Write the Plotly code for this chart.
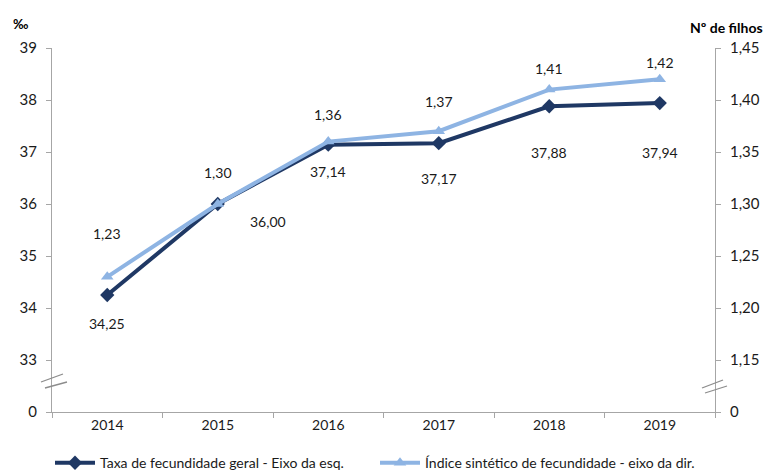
import plotly.graph_objects as go

years = ["2014", "2015", "2016", "2017", "2018", "2019"]
taxa_geral = [34.25, 36.00, 37.14, 37.17, 37.88, 37.94]          # ‰, left axis
indice_sintetico = [1.23, 1.30, 1.36, 1.37, 1.41, 1.42]         # nº de filhos, right axis

left_ticks = [32, 33, 34, 35, 36, 37, 38, 39]
left_ticktext = ["0", "33", "34", "35", "36", "37", "38", "39"]
right_ticks = [1.10, 1.15, 1.20, 1.25, 1.30, 1.35, 1.40, 1.45]
right_ticktext = ["0", "1,15", "1,20", "1,25", "1,30", "1,35", "1,40", "1,45"]

# label offsets in pixels (x, y) for each data label
taxa_label_offsets = [(0, -28), (50, -17), (0, -27), (0, -35), (0, -46), (0, -49)]
indice_label_offsets = [(0, 43), (0, 32), (0, 27), (0, 30), (0, 21), (0, 17)]

DARK = "#1F3864"
LIGHT = "#8EB4E3"
AXIS = "#A6A6A6"
FONT = "Lato"
TXT = "#1a1a1a"
W, H = 766, 475


def pt(v):
    return f"{v:.2f}".replace(".", ",")


fig = go.Figure()
fig.add_trace(go.Scatter(
    x=years, y=taxa_geral, name="Taxa de fecundidade geral - Eixo da esq.",
    mode="lines+markers", line=dict(color=DARK, width=4),
    marker=dict(symbol="diamond", size=11, color=DARK),
    yaxis="y", legend="legend",
))
fig.add_trace(go.Scatter(
    x=years, y=indice_sintetico, name="Índice sintético de fecundidade - eixo da dir.",
    mode="lines+markers", line=dict(color=LIGHT, width=4),
    marker=dict(symbol="triangle-up", size=11, color=LIGHT),
    yaxis="y2", legend="legend2",
))

annotations = []
for i, (v, (dx, dy)) in enumerate(zip(taxa_geral, taxa_label_offsets)):
    annotations.append(dict(x=i, y=v, xref="x", yref="y", text=pt(v),
                            showarrow=False, xshift=dx, yshift=dy,
                            font=dict(family=FONT, size=14, color=TXT)))
for i, (v, (dx, dy)) in enumerate(zip(indice_sintetico, indice_label_offsets)):
    annotations.append(dict(x=i, y=v, xref="x", yref="y2", text=pt(v),
                            showarrow=False, xshift=dx, yshift=dy,
                            font=dict(family=FONT, size=14, color=TXT)))

# axis titles
annotations.append(dict(x=0, y=1, xref="paper", yref="paper", text="<b>‰</b>",
                        showarrow=False, xanchor="center", yanchor="bottom",
                        xshift=-32, yshift=14, font=dict(family=FONT, size=13, color="#000")))
annotations.append(dict(x=1, y=1, xref="paper", yref="paper", text="<b>Nº de filhos</b>",
                        showarrow=False, xanchor="center", yanchor="bottom",
                        xshift=11, yshift=10, font=dict(family=FONT, size=14, color="#000")))

# axis break marks
shapes = []
for xanchor, segs in [(0, [(-11, 4, 11, 12), (-7, -2, 15, 4)]),
                      (1, [(-13, -2, 8, 6), (-10, -7, 12, 0)])]:
    for x0, y0, x1, y1 in segs:
        shapes.append(dict(type="line", xref="paper", yref="y",
                           xsizemode="pixel", ysizemode="pixel",
                           xanchor=xanchor, yanchor=32.5,
                           x0=x0, x1=x1, y0=y0, y1=y1,
                           line=dict(color="#8c8c8c", width=1.3)))

legend_common = dict(orientation="h", xref="container", xanchor="left",
                     yref="container", y=0.025, yanchor="middle",
                     font=dict(family=FONT, size=14, color=TXT),
                     itemwidth=40, bgcolor="rgba(0,0,0,0)")

fig.update_layout(
    width=W, height=H,
    margin=dict(l=52, r=51, t=48, b=63, autoexpand=False),
    paper_bgcolor="white", plot_bgcolor="white",
    font=dict(family=FONT, size=14, color=TXT),
    showlegend=True,
    legend=dict(x=50 / W, **legend_common),
    legend2=dict(x=375 / W, **legend_common),
    xaxis=dict(type="category", range=[-0.5, 5.5], showgrid=False,
               showline=True, linecolor=AXIS, linewidth=1,
               ticks="outside", tickson="boundaries", ticklen=5, tickcolor=AXIS,
               tickfont=dict(family=FONT, size=14, color=TXT)),
    yaxis=dict(range=[32, 39], tickvals=left_ticks, ticktext=left_ticktext,
               showgrid=False, zeroline=False, showline=True, linecolor=AXIS,
               ticks="outside", ticklen=5, tickcolor=AXIS, ticklabelstandoff=6,
               tickfont=dict(family=FONT, size=15, color=TXT)),
    yaxis2=dict(range=[1.10, 1.45], tickvals=right_ticks, ticktext=right_ticktext,
                overlaying="y", side="right", showgrid=False, zeroline=False,
                showline=True, linecolor=AXIS, ticks="outside", ticklen=5,
                tickcolor=AXIS, ticklabelstandoff=6,
                tickfont=dict(family=FONT, size=15, color=TXT)),
    annotations=annotations,
    shapes=shapes,
)

fig.write_html("out.html")
